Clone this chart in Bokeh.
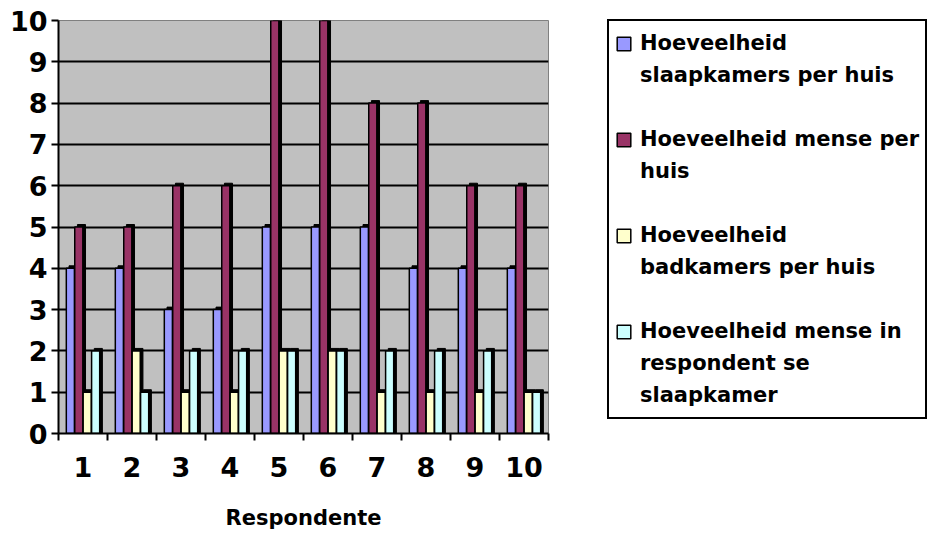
from bokeh.plotting import figure
from bokeh.models import FixedTicker, Legend, LegendItem, ColumnDataSource, Range1d
from bokeh.transform import dodge
from bokeh.embed import file_html
from bokeh.resources import INLINE

# ---- data ----
respondente = [1, 2, 3, 4, 5, 6, 7, 8, 9, 10]
slaapkamers_per_huis = [4, 4, 3, 3, 5, 5, 5, 4, 4, 4]
mense_per_huis = [5, 5, 6, 6, 10, 10, 8, 8, 6, 6]
badkamers_per_huis = [1, 2, 1, 1, 2, 2, 1, 1, 1, 1]
mense_in_slaapkamer = [2, 1, 2, 2, 2, 2, 2, 2, 2, 1]
series_label_lines = [
    ["Hoeveelheid", "slaapkamers per huis"],
    ["Hoeveelheid mense per", "huis"],
    ["Hoeveelheid", "badkamers per huis"],
    ["Hoeveelheid mense in", "respondent se", "slaapkamer"],
]
y_ticks = [0, 1, 2, 3, 4, 5, 6, 7, 8, 9, 10]
x_axis_title = "Respondente"

colors = ["#9999FF", "#993366", "#FFFFCC", "#CCFFFF"]
series = [slaapkamers_per_huis, mense_per_huis, badkamers_per_huis, mense_in_slaapkamer]

p = figure(
    frame_width=490, frame_height=413,
    x_range=Range1d(0.5, 10.5), y_range=Range1d(0, 10),
    output_backend="svg", toolbar_location=None,
    min_border_left=58, min_border_right=0, min_border_top=20, min_border_bottom=95,
    background_fill_color="#C0C0C0", border_fill_color="white",
)
p.outline_line_color = "#808080"
p.outline_line_width = 1

p.xgrid.grid_line_color = None
p.ygrid.grid_line_color = "black"
p.ygrid.grid_line_width = 2
p.ygrid.ticker = FixedTicker(ticks=y_ticks)

FONT = "DejaVu Sans"

# y axis
p.yaxis.ticker = FixedTicker(ticks=y_ticks)
p.yaxis.axis_line_color = "black"
p.yaxis.axis_line_width = 2
p.yaxis.major_tick_line_color = "black"
p.yaxis.major_tick_line_width = 2
p.yaxis.major_tick_out = 7
p.yaxis.major_tick_in = 0
p.yaxis.minor_tick_line_color = None
p.yaxis.major_label_text_font = FONT
p.yaxis.major_label_text_font_style = "bold"
p.yaxis.major_label_text_font_size = "27px"
p.yaxis.major_label_text_color = "black"
p.yaxis.major_label_standoff = 4

# x axis
minor = [r - 0.5 for r in respondente] + [respondente[-1] + 0.5]
p.xaxis.ticker = FixedTicker(ticks=respondente, minor_ticks=minor)
p.xaxis.axis_line_color = "black"
p.xaxis.axis_line_width = 2
p.xaxis.major_tick_line_color = None
p.xaxis.major_tick_out = 0
p.xaxis.major_tick_in = 0
p.xaxis.minor_tick_line_color = "black"
p.xaxis.minor_tick_line_width = 2
p.xaxis.minor_tick_out = 7
p.xaxis.minor_tick_in = 0
p.xaxis.major_label_text_font = FONT
p.xaxis.major_label_text_font_style = "bold"
p.xaxis.major_label_text_font_size = "27px"
p.xaxis.major_label_text_color = "black"
p.xaxis.major_label_standoff = 16
p.xaxis.axis_label = x_axis_title
p.xaxis.axis_label_text_font = FONT
p.xaxis.axis_label_text_font_style = "bold"
p.xaxis.axis_label_text_font_size = "21px"
p.xaxis.axis_label_text_color = "black"
p.xaxis.axis_label_standoff = 26

pitch = 0.172
bar_w = 0.165
renderers = []
for i, (vals, col) in enumerate(zip(series, colors)):
    off = (i - 1.5) * pitch
    src = ColumnDataSource(dict(x=respondente, top=vals,
                                shadow_top=[v + 0.06 for v in vals]))
    p.vbar(x=dodge("x", off + 0.055, range=p.x_range), top="shadow_top", bottom=0,
           width=bar_w, source=src, fill_color="black", line_color="black")
    r = p.vbar(x=dodge("x", off, range=p.x_range), top="top", bottom=0,
               width=bar_w, source=src, fill_color=col, line_color="black",
               line_width=1.5)
    renderers.append(r)

# legend: one row per text line, blank row between series
items = []
for k, (lines, r) in enumerate(zip(series_label_lines, renderers)):
    if k > 0:
        items.append(LegendItem(label=" ", renderers=[]))
    items.append(LegendItem(label=lines[0], renderers=[r]))
    for ln in lines[1:]:
        items.append(LegendItem(label=ln, renderers=[]))

legend = Legend(
    items=items,
    location=(59, 14),
    orientation="vertical",
    label_text_font=FONT,
    label_text_font_style="bold",
    label_text_font_size="21px",
    label_text_color="black",
    label_height=32,
    glyph_width=17, glyph_height=17,
    label_standoff=8,
    spacing=0,
    padding=6,
    margin=0,
    border_line_color="black",
    border_line_alpha=1,
    border_line_width=2,
    background_fill_color="white",
    background_fill_alpha=1,
)
p.add_layout(legend, "right")

open("out.html", "w").write(file_html(p, INLINE))
